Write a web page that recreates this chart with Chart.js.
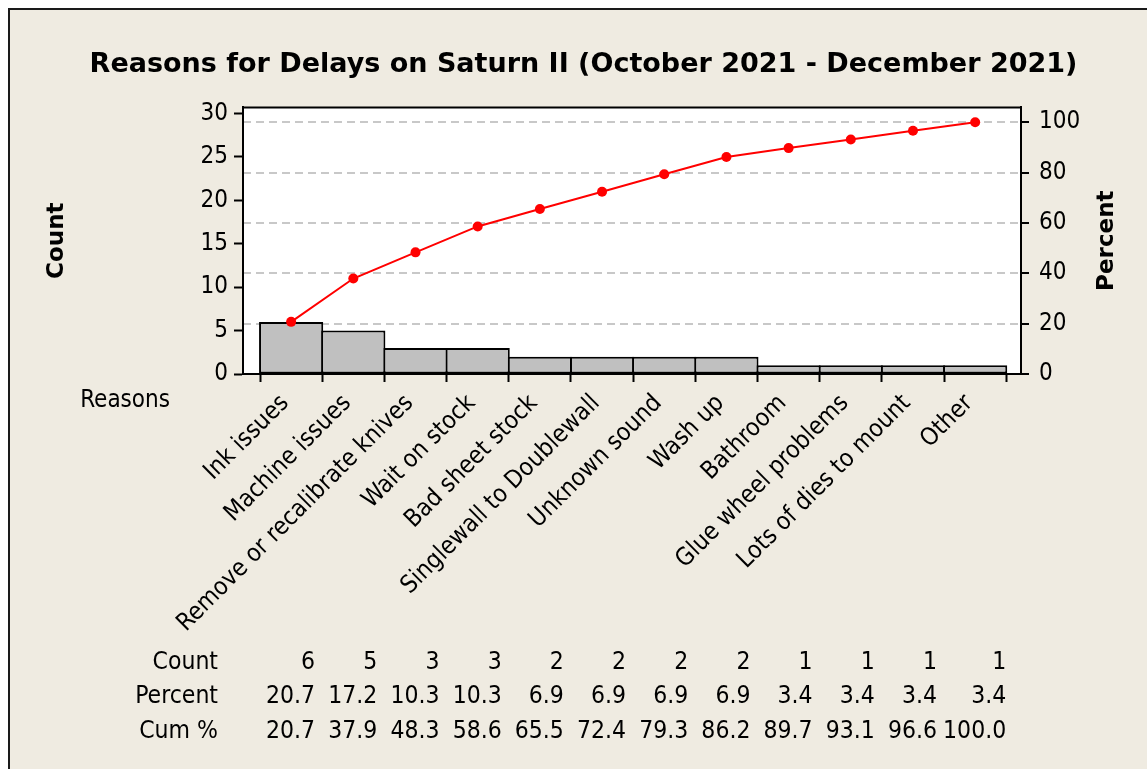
<!DOCTYPE html>
<html><head><meta charset="utf-8">
<script src="https://cdn.jsdelivr.net/npm/chart.js@4.4.0/dist/chart.umd.min.js"></script>
<style>html,body{margin:0;padding:0;background:#fff;overflow:hidden}canvas{display:block}</style>
</head><body>
<canvas id="c" width="1147" height="769"></canvas>
<script>
const reasons = ["Ink issues","Machine issues","Remove or recalibrate knives","Wait on stock","Bad sheet stock","Singlewall to Doublewall","Unknown sound","Wash up","Bathroom","Glue wheel problems","Lots of dies to mount","Other"];
const counts = [6,5,3,3,2,2,2,2,1,1,1,1];
const percents = [20.7,17.2,10.3,10.3,6.9,6.9,6.9,6.9,3.4,3.4,3.4,3.4];
const cumPercents = [20.7,37.9,48.3,58.6,65.5,72.4,79.3,86.2,89.7,93.1,96.6,100.0];
const countTicks = [0,5,10,15,20,25,30];
const percentTicks = [0,20,40,60,80,100];
const totalCount = 29;
const countMax = 30.7;

const FONT = "'DejaVu Sans Condensed','DejaVu Sans',sans-serif";
const BOLDFONT = "'DejaVu Sans',sans-serif";
Chart.defaults.font.family = FONT;
Chart.defaults.color = '#000';

const panelPlugin = {
  id: 'panel',
  beforeDraw(chart) {
    const c = chart.ctx, w = chart.width, h = chart.height, a = chart.chartArea;
    c.save();
    c.fillStyle = '#fff'; c.fillRect(0, 0, w, h);
    c.fillStyle = '#EFEBE1'; c.fillRect(8, 8, w - 8, h - 8);
    c.fillStyle = '#1a1a1a'; c.fillRect(8, 8, w - 8, 2); c.fillRect(8, 8, 2, h - 8);
    c.fillStyle = '#fff'; c.fillRect(a.left, a.top, a.right - a.left, a.bottom - a.top);
    c.restore();
  },
  afterDraw(chart) {
    const c = chart.ctx, a = chart.chartArea, xs = chart.scales.x;
    c.save();
    c.strokeStyle = '#000'; c.lineWidth = 2;
    c.beginPath(); c.moveTo(a.left - 1, a.top); c.lineTo(a.right + 1, a.top); c.stroke();
    c.font = "bold 23px " + BOLDFONT; c.fillStyle = '#000';
    c.textAlign = 'center'; c.textBaseline = 'middle';
    c.translate(1107, (a.top + a.bottom) / 2); c.rotate(-Math.PI / 2);
    c.fillText('Percent', 0, 0);
    c.restore();
    c.save();
    c.font = "24px " + FONT; c.fillStyle = '#000';
    c.textAlign = 'right'; c.textBaseline = 'middle';
    c.fillText('Reasons', 170, 401);
    const rows = [
      ['Count', counts.map(v => String(v)), 663],
      ['Percent', percents.map(v => v.toFixed(1)), 697],
      ['Cum %', cumPercents.map(v => v.toFixed(1)), 732]
    ];
    c.font = "24.5px " + FONT;
    rows.forEach(([label, vals, y]) => {
      c.fillText(label, 218, y);
      vals.forEach((t, i) => {
        const off = i === vals.length - 1 ? 31 : 24;
        c.fillText(t, xs.getPixelForValue(i) + off, y);
      });
    });
    c.restore();
  }
};

new Chart(document.getElementById('c'), {
  type: 'bar',
  data: {
    datasets: [
      {
        type: 'line',
        data: cumPercents.map((v, i) => ({x: i, y: v})),
        yAxisID: 'y2',
        borderColor: '#FF0000',
        backgroundColor: '#FF0000',
        borderWidth: 2,
        pointRadius: 5,
        pointBorderWidth: 0,
        pointHoverRadius: 5,
        tension: 0,
        order: 1
      },
      {
        type: 'bar',
        data: counts.map((v, i) => ({x: i, y: v})),
        yAxisID: 'y',
        backgroundColor: '#C0C0C0',
        borderColor: '#000',
        borderWidth: 2,
        borderSkipped: false,
        barPercentage: 1.032,
        categoryPercentage: 1,
        order: 2
      }
    ]
  },
  options: {
    responsive: false,
    animation: false,
    events: [],
    layout: {padding: {left: 20, right: 0, top: 0, bottom: 0}},
    plugins: {
      legend: {display: false},
      tooltip: {enabled: false},
      title: {
        display: true,
        text: 'Reasons for Delays on Saturn II (October 2021 - December 2021)',
        font: {size: 27, weight: 'bold', family: BOLDFONT},
        color: '#000',
        padding: {top: 49, bottom: 26}
      }
    },
    scales: {
      x: {
        type: 'linear',
        position: 'bottom',
        min: -0.774,
        max: 11.737,
        offset: false,
        afterBuildTicks: ax => { ax.ticks = reasons.map((_, i) => ({value: i})); },
        afterFit: ax => { ax.height = 395; },
        ticks: {
          callback: v => reasons[v],
          autoSkip: false,
          minRotation: 45,
          maxRotation: 45,
          font: {size: 24.5},
          color: '#000',
          padding: 7,
          labelOffset: -6
        },
        grid: {display: true, drawOnChartArea: false, drawTicks: true, tickLength: 8, tickColor: '#000', tickWidth: 2},
        border: {display: true, color: '#000', width: 2}
      },
      y: {
        position: 'left',
        min: 0,
        max: countMax,
        afterBuildTicks: ax => { ax.ticks = countTicks.map(v => ({value: v})); },
        afterFit: ax => { ax.width = 223; },
        ticks: {font: {size: 24}, color: '#000', padding: 6},
        grid: {display: true, drawOnChartArea: false, tickLength: 9, tickColor: '#000', tickWidth: 2},
        border: {display: true, color: '#000', width: 2},
        title: {display: true, text: 'Count', font: {size: 23, weight: 'bold', family: BOLDFONT}, color: '#000', padding: {top: 23, bottom: 0}}
      },
      y2: {
        position: 'right',
        min: 0,
        max: countMax / totalCount * 100,
        afterBuildTicks: ax => { ax.ticks = percentTicks.map(v => ({value: v})); },
        afterFit: ax => { ax.width = 126; },
        ticks: {font: {size: 24}, color: '#000', padding: 10},
        grid: {
          display: true,
          drawOnChartArea: true,
          color: ctx => (ctx.tick && ctx.tick.value === 0) ? 'rgba(0,0,0,0)' : '#C8C8C8',
          lineWidth: 2,
          tickLength: 8,
          tickColor: '#000',
          tickWidth: 2,
          tickBorderDash: []
        },
        border: {display: true, color: '#000', width: 2, dash: [8, 5]}
      }
    }
  },
  plugins: [panelPlugin]
});
</script>
</body></html>
